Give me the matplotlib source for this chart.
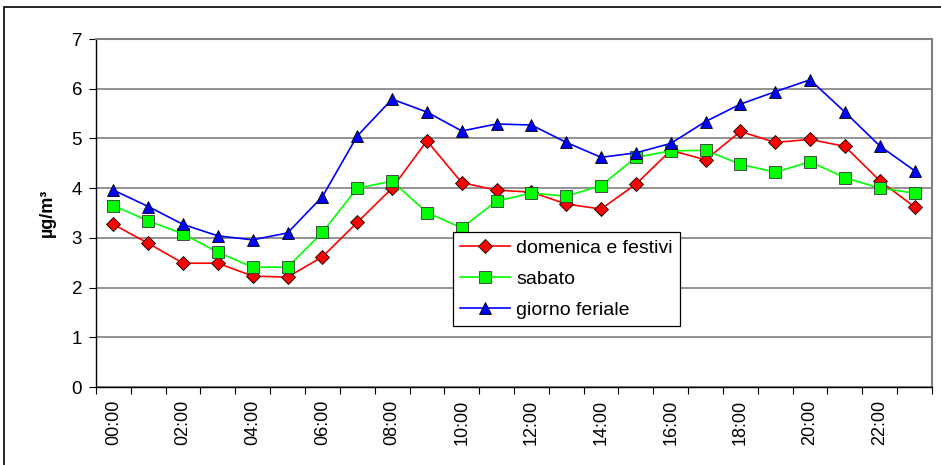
import matplotlib.pyplot as plt
from matplotlib.patches import Rectangle

plt.rcParams['font.family'] = ['Liberation Sans', 'DejaVu Sans']

hours = [f"{h:02d}:00" for h in range(24)]

domenica = [3.27, 2.89, 2.49, 2.49, 2.23, 2.21, 2.62, 3.31, 4.00, 4.95, 4.11, 3.96,
            3.92, 3.68, 3.58, 4.08, 4.76, 4.57, 5.14, 4.92, 4.98, 4.84, 4.15, 3.62]
sabato = [3.65, 3.34, 3.08, 2.71, 2.41, 2.41, 3.11, 4.00, 4.14, 3.51, 3.20, 3.74,
          3.90, 3.84, 4.05, 4.62, 4.75, 4.76, 4.48, 4.32, 4.53, 4.21, 4.00, 3.90]
feriale = [3.96, 3.63, 3.27, 3.04, 2.96, 3.10, 3.83, 5.05, 5.79, 5.53, 5.15, 5.29,
           5.27, 4.92, 4.62, 4.71, 4.90, 5.34, 5.69, 5.94, 6.18, 5.53, 4.85, 4.35]

fig = plt.figure(figsize=(9.41, 4.65), dpi=100)
W, H = 941, 465
ax = fig.add_axes([96 / W, 1 - 387 / H, (932 - 96) / W, (387 - 39) / H])

# outer frame of the chart area (cropped on right and bottom)
fig.patches.append(Rectangle((4 / W, -0.1), 1.2, 1 - 7 / H + 0.1, transform=fig.transFigure,
                             fill=False, edgecolor='black', linewidth=1.2))

x = list(range(len(hours)))
ax.plot(x, domenica, color='red', lw=1.2, marker='D', ms=7, mfc='red', mec='black',
        mew=0.6, label='domenica e festivi', zorder=3)
ax.plot(x, sabato, color='#00ff00', lw=1.2, marker='s', ms=8, mfc='#00ff00', mec='#333333',
        mew=0.6, label='sabato', zorder=3)
ax.plot(x, feriale, color='blue', lw=1.2, marker='^', ms=9, mfc='blue', mec='black',
        mew=0.6, label='giorno feriale', zorder=3)

ax.set_xlim(-0.5, 23.5)
ax.set_ylim(0, 7)
ax.set_yticks(range(8))
ax.yaxis.grid(True, color='#808080', lw=1.2)
ax.set_axisbelow(True)

ax.set_xticks([i - 0.5 for i in range(25)], minor=False)
ax.set_xticklabels([])
ax.set_xticks(x[::2], minor=True)
ax.set_xticklabels(hours[::2], minor=True, rotation=90, fontsize=13)
ax.tick_params(axis='x', which='major', direction='out', length=5, width=0.8)
ax.tick_params(axis='x', which='minor', length=0, pad=9)
ax.tick_params(axis='y', direction='out', length=5, width=0.8, labelsize=13.5, pad=5)

for s in ['top', 'right']:
    ax.spines[s].set_color('#808080')
    ax.spines[s].set_linewidth(1.5)
for s in ['left', 'bottom']:
    ax.spines[s].set_color('black')
    ax.spines[s].set_linewidth(1)

ax.set_ylabel('µg/m³', fontsize=13, fontweight='bold', labelpad=11)

leg = ax.legend(loc='lower left', bbox_to_anchor=((453 - 96) / 836, (387 - 326) / 348),
                fontsize=14, frameon=True, fancybox=False, edgecolor='black',
                borderpad=0.35, labelspacing=0.7, handlelength=2.6, handletextpad=0.3,
                borderaxespad=0)
leg.get_frame().set_linewidth(0.9)
leg.get_frame().set_alpha(1)

fig.savefig('out.png', dpi=100)
